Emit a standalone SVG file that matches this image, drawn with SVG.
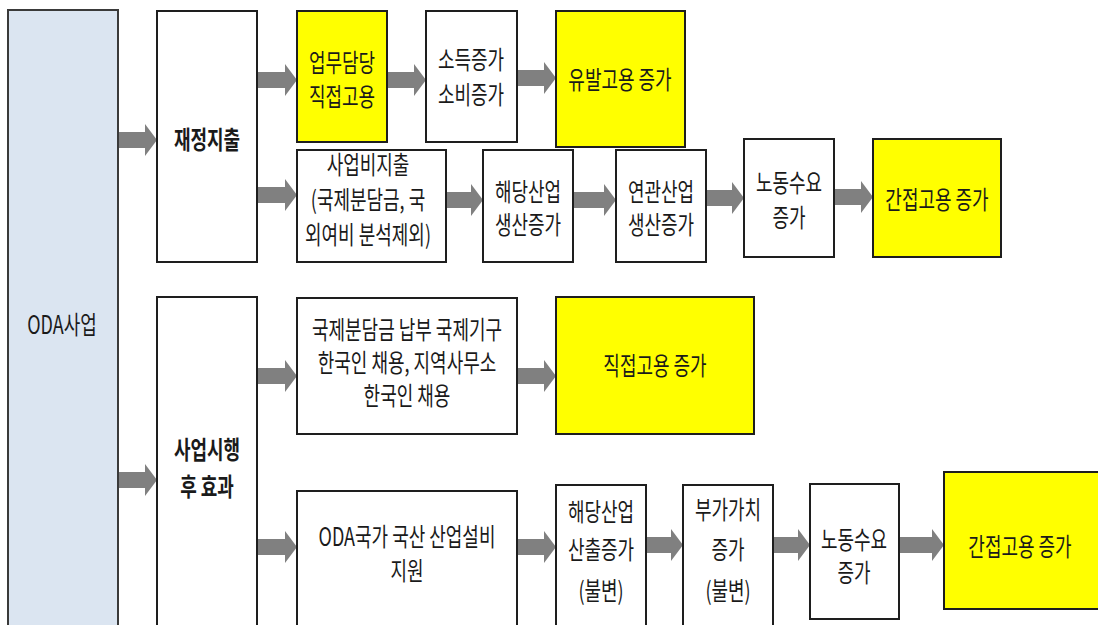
<svg xmlns="http://www.w3.org/2000/svg" width="1098" height="625" viewBox="0 0 1098 625">
<style>
.box{fill:#ffffff;stroke:#1e1e1e;stroke-width:2}
.yel{fill:#ffff00;stroke:#1e1e1e;stroke-width:2}
.oda{fill:#dbe5f1;stroke:#3a3a3a;stroke-width:2}
.arr{fill:#808080}
text{font-family:"Noto Sans CJK KR","Noto Sans",sans-serif;font-size:25px;fill:#1a1a1a;text-anchor:middle}
.b{font-weight:bold}
</style>
<rect width="1098" height="625" fill="#ffffff"/>
<g id="connectors">
<polygon class="arr" points="118,132 145,132 145,124 157,140 145,156 145,148 118,148"/>
<polygon class="arr" points="118,472 145,472 145,464 157,480 145,496 145,488 118,488"/>
<polygon class="arr" points="257,72 285,72 285,64 297,80 285,96 285,88 257,88"/>
<polygon class="arr" points="257,187 285,187 285,179 297,195 285,211 285,203 257,203"/>
<polygon class="arr" points="387,72 414,72 414,64 426,80 414,96 414,88 387,88"/>
<polygon class="arr" points="517,70 544,70 544,62 556,78 544,94 544,86 517,86"/>
<polygon class="arr" points="446,192 471,192 471,184 483,200 471,216 471,208 446,208"/>
<polygon class="arr" points="573,192 604,192 604,184 616,200 604,216 604,208 573,208"/>
<polygon class="arr" points="706,190 732,190 732,182 744,198 732,214 732,206 706,206"/>
<polygon class="arr" points="834,189 861,189 861,181 873,197 861,213 861,205 834,205"/>
<polygon class="arr" points="257,368 285,368 285,360 297,376 285,392 285,384 257,384"/>
<polygon class="arr" points="257,539 285,539 285,531 297,547 285,563 285,555 257,555"/>
<polygon class="arr" points="517,368 544,368 544,360 556,376 544,392 544,384 517,384"/>
<polygon class="arr" points="517,539 544,539 544,531 556,547 544,563 544,555 517,555"/>
<polygon class="arr" points="646,537 671,537 671,529 683,545 671,561 671,553 646,553"/>
<polygon class="arr" points="773,537 798,537 798,529 810,545 798,561 798,553 773,553"/>
<polygon class="arr" points="899,537 932,537 932,529 944,545 932,561 932,553 899,553"/>
</g>
<g id="n_oda">
<rect class="oda" x="8" y="10" width="110" height="630"/>
<text transform="translate(62,334) scale(0.72,1)">ODA사업</text>
</g>
<g id="n_jaejeong">
<rect class="box" x="157" y="11" width="100" height="251"/>
<text class="b" transform="translate(207,149) scale(0.72,1)">재정지출</text>
</g>
<g id="n_eopmu">
<rect class="yel" x="297" y="11" width="90" height="131"/>
<text transform="translate(342,72) scale(0.72,1)"><tspan x="0" y="0">업무담당</tspan><tspan x="0" y="34">직접고용</tspan></text>
</g>
<g id="n_sodeuk">
<rect class="box" x="426" y="11" width="91" height="131"/>
<text transform="translate(471,69) scale(0.72,1)"><tspan x="0" y="0">소득증가</tspan><tspan x="0" y="35">소비증가</tspan></text>
</g>
<g id="n_yubal">
<rect class="yel" x="556" y="11" width="129" height="136"/>
<text transform="translate(620,89) scale(0.72,1)">유발고용 증가</text>
</g>
<g id="n_saeopbi">
<rect class="box" x="297" y="150" width="149" height="112"/>
<text transform="translate(368,174) scale(0.72,1)"><tspan x="0" y="0">사업비지출</tspan><tspan x="0" y="35">(국제분담금, 국</tspan><tspan x="0" y="70">외여비 분석제외)</tspan></text>
</g>
<g id="n_haedang1">
<rect class="box" x="483" y="150" width="90" height="112"/>
<text transform="translate(528,201) scale(0.72,1)"><tspan x="0" y="0">해당산업</tspan><tspan x="0" y="33">생산증가</tspan></text>
</g>
<g id="n_yeongwan">
<rect class="box" x="616" y="150" width="90" height="112"/>
<text transform="translate(661,201) scale(0.72,1)"><tspan x="0" y="0">연관산업</tspan><tspan x="0" y="33">생산증가</tspan></text>
</g>
<g id="n_nodong1">
<rect class="box" x="744" y="139" width="90" height="118"/>
<text transform="translate(789,192) scale(0.72,1)"><tspan x="0" y="0">노동수요</tspan><tspan x="0" y="35">증가</tspan></text>
</g>
<g id="n_ganjeop1">
<rect class="yel" x="873" y="139" width="128" height="118"/>
<text transform="translate(937,209) scale(0.72,1)">간접고용 증가</text>
</g>
<g id="n_sihaeng">
<rect class="box" x="157" y="297" width="100" height="340"/>
<text class="b" transform="translate(207,459) scale(0.72,1)"><tspan x="0" y="0">사업시행</tspan><tspan x="0" y="37">후 효과</tspan></text>
</g>
<g id="n_gukje">
<rect class="box" x="297" y="298" width="220" height="136"/>
<text transform="translate(407,339) scale(0.72,1)"><tspan x="0" y="0">국제분담금 납부 국제기구</tspan><tspan x="0" y="33">한국인 채용, 지역사무소</tspan><tspan x="0" y="66">한국인 채용</tspan></text>
</g>
<g id="n_jikjeop">
<rect class="yel" x="556" y="297" width="198" height="137"/>
<text transform="translate(655,375) scale(0.72,1)">직접고용 증가</text>
</g>
<g id="n_odagukga">
<rect class="box" x="297" y="491" width="220" height="145"/>
<text transform="translate(407,546) scale(0.72,1)"><tspan x="0" y="0">ODA국가 국산 산업설비</tspan><tspan x="0" y="34">지원</tspan></text>
</g>
<g id="n_haedang2">
<rect class="box" x="556" y="485" width="90" height="150"/>
<text transform="translate(601,521) scale(0.72,1)"><tspan x="0" y="0">해당산업</tspan><tspan x="0" y="38">산출증가</tspan><tspan x="0" y="79">(불변)</tspan></text>
</g>
<g id="n_bugagachi">
<rect class="box" x="683" y="485" width="90" height="150"/>
<text transform="translate(728,519) scale(0.72,1)"><tspan x="0" y="0">부가가치</tspan><tspan x="0" y="40">증가</tspan><tspan x="0" y="81">(불변)</tspan></text>
</g>
<g id="n_nodong2">
<rect class="box" x="810" y="484" width="89" height="135"/>
<text transform="translate(854,549) scale(0.72,1)"><tspan x="0" y="0">노동수요</tspan><tspan x="0" y="33">증가</tspan></text>
</g>
<g id="n_ganjeop2">
<rect class="yel" x="944" y="472" width="160" height="137"/>
<text transform="translate(1020,556) scale(0.72,1)">간접고용 증가</text>
</g>
</svg>
